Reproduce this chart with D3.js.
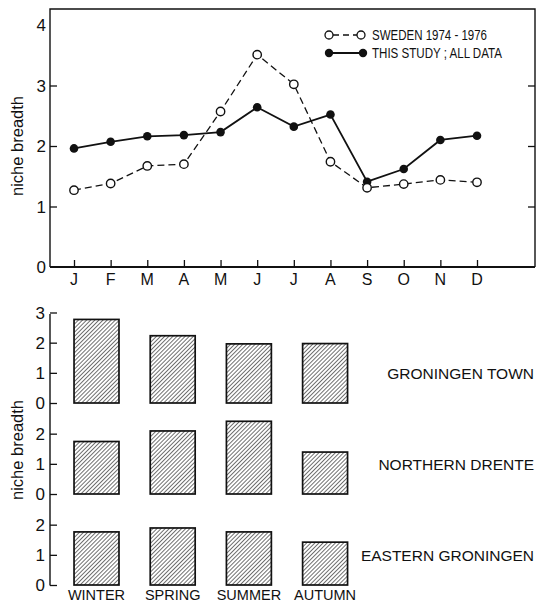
<!DOCTYPE html>
<html><head><meta charset="utf-8">
<script src="https://cdn.jsdelivr.net/npm/d3@7/dist/d3.min.js"></script>
<style>
html,body{margin:0;padding:0;background:#fff;}
svg{display:block;font-family:"Liberation Sans",Arial,Helvetica,sans-serif;}
</style></head>
<body>
<svg id="c" width="539" height="604"></svg>
<script>
// ---- data ----
const months = ["J","F","M","A","M","J","J","A","S","O","N","D"];
const sweden = [1.27,1.38,1.67,1.70,2.57,3.51,3.02,1.74,1.31,1.37,1.44,1.40];
const thisStudy = [1.96,2.07,2.16,2.18,2.23,2.64,2.32,2.52,1.41,1.62,2.10,2.17];
const topTicks = [0,1,2,3,4];
const legendLabels = ["SWEDEN 1974 - 1976","THIS STUDY ; ALL DATA"];

const seasons = ["WINTER","SPRING","SUMMER","AUTUMN"];
const regions = ["GRONINGEN TOWN","NORTHERN DRENTE","EASTERN GRONINGEN"];
const groningenTown = [2.77,2.23,1.96,1.97];
const northernDrente = [1.74,2.09,2.41,1.39];
const easternGroningen = [1.76,1.89,1.76,1.42];
const regionTicks = [[0,1,2,3],[0,1,2],[0,1,2]];
const yTitle = "niche breadth";

// ---- drawing ----
const svg = d3.select("#c");
const ink = "#111";

// defs: hatch pattern
const defs = svg.append("defs");
const pat = defs.append("pattern").attr("id","hatch").attr("patternUnits","userSpaceOnUse")
  .attr("width",2.9).attr("height",2.9).attr("patternTransform","rotate(45)");
pat.append("rect").attr("width",2.9).attr("height",2.9).attr("fill","#fff");
pat.append("line").attr("x1",0).attr("y1",0).attr("x2",0).attr("y2",2.9)
  .attr("stroke",ink).attr("stroke-width",1.2);

// ===== top chart =====
const L = 50, R = 535, T = 9, B = 267;
const x = d3.scaleLinear().domain([0, 11]).range([74, 477]);
const y = d3.scaleLinear().domain([0, 4]).range([B, 25]);

const topG = svg.append("g");
// frame
topG.append("path").attr("d",`M${L},${B}V${T}H${R}V${B}`)
  .attr("fill","none").attr("stroke",ink).attr("stroke-width",1.4);
topG.append("line").attr("x1",L).attr("x2",R).attr("y1",B).attr("y2",B)
  .attr("stroke",ink).attr("stroke-width",2);

// left axis (inward ticks)
const yl = topG.append("g").attr("transform",`translate(${L},0)`)
  .call(d3.axisRight(y).tickValues([1,2,3]).tickSize(7).tickFormat(""));
yl.select(".domain").remove();
yl.selectAll("line").attr("stroke",ink).attr("stroke-width",1.3);
topG.selectAll(".ytl").data(topTicks).join("text").attr("class","ytl")
  .attr("x",L-4).attr("y",d=>y(d)).attr("dy","0.36em").attr("text-anchor","end")
  .attr("font-size",17).attr("fill",ink).text(d=>d);
// right axis (inward ticks)
const yr = topG.append("g").attr("transform",`translate(${R},0)`)
  .call(d3.axisLeft(y).tickValues([1,2,3]).tickSize(7).tickFormat(""));
yr.select(".domain").remove();
yr.selectAll("line").attr("stroke",ink).attr("stroke-width",1.3);

// x axis (inward ticks)
const xa = topG.append("g").attr("transform",`translate(0,${B})`)
  .call(d3.axisTop(x).tickValues(d3.range(months.length)).tickSize(7).tickFormat(""));
xa.select(".domain").remove();
xa.selectAll("line").attr("stroke",ink).attr("stroke-width",1.3);
topG.selectAll(".xtl").data(months).join("text").attr("class","xtl")
  .attr("x",(d,i)=>x(i)).attr("y",B+18).attr("text-anchor","middle")
  .attr("font-size",16).attr("fill",ink).text(d=>d);

// y title
topG.append("text").attr("transform",`translate(23,${(y(1)+y(3))/2}) rotate(-90)`)
  .attr("text-anchor","middle").attr("font-size",16.5).attr("fill",ink).text(yTitle);

const line = d3.line().x((d,i)=>x(i)).y(d=>y(d));
topG.append("path").datum(sweden).attr("d",line).attr("fill","none")
  .attr("stroke",ink).attr("stroke-width",1.3).attr("stroke-dasharray","7,4");
topG.append("path").datum(thisStudy).attr("d",line).attr("fill","none")
  .attr("stroke",ink).attr("stroke-width",1.8);
topG.selectAll(".ps").data(thisStudy).join("circle").attr("class","ps")
  .attr("cx",(d,i)=>x(i)).attr("cy",d=>y(d)).attr("r",4.3).attr("fill",ink);
topG.selectAll(".po").data(sweden).join("circle").attr("class","po")
  .attr("cx",(d,i)=>x(i)).attr("cy",d=>y(d)).attr("r",4.2)
  .attr("fill","#fff").attr("stroke",ink).attr("stroke-width",1.4);

// legend
const lg = topG.append("g");
const lx1 = 329, lx2 = 361, ly = [35, 53];
lg.append("line").attr("x1",lx1).attr("x2",lx2).attr("y1",ly[0]).attr("y2",ly[0])
  .attr("stroke",ink).attr("stroke-width",1.3).attr("stroke-dasharray","6,4").attr("stroke-dashoffset",-4);
[lx1,lx2].forEach(cx=>lg.append("circle").attr("cx",cx).attr("cy",ly[0]).attr("r",4)
  .attr("fill","#fff").attr("stroke",ink).attr("stroke-width",1.3));
lg.append("line").attr("x1",lx1).attr("x2",lx2+2).attr("y1",ly[1]).attr("y2",ly[1])
  .attr("stroke",ink).attr("stroke-width",1.8);
[lx1,lx2+2].forEach(cx=>lg.append("circle").attr("cx",cx).attr("cy",ly[1]).attr("r",4.2).attr("fill",ink));
lg.append("text").attr("x",372).attr("y",ly[0]+5).attr("font-size",14).attr("fill",ink)
  .attr("textLength",115).attr("lengthAdjust","spacingAndGlyphs").text(legendLabels[0]);
lg.append("text").attr("x",372).attr("y",ly[1]+5).attr("font-size",14).attr("fill",ink)
  .attr("textLength",130).attr("lengthAdjust","spacingAndGlyphs").text(legendLabels[1]);

// ===== bottom chart =====
const bx = d3.scaleBand().domain(seasons).range([42.8, 378.8]).padding(0.41);
const baselines = [403, 494, 585];
const regionData = [groningenTown, northernDrente, easternGroningen];
const bot = svg.append("g");
const AX = 50;
bot.append("line").attr("x1",AX).attr("x2",AX).attr("y1",314).attr("y2",585.6)
  .attr("stroke",ink).attr("stroke-width",1.4);

regionData.forEach((vals, gi)=>{
  const base = baselines[gi];
  const ys = d3.scaleLinear().domain([0,3]).range([base, base-90.5]);
  const g = bot.append("g");
  const ax = g.append("g").attr("transform",`translate(${AX},0)`)
    .call(d3.axisRight(ys).tickValues(regionTicks[gi]).tickSize(7).tickFormat(""));
  ax.select(".domain").remove();
  ax.selectAll("line").attr("stroke",ink).attr("stroke-width",1.3);
  g.selectAll(".tl").data(regionTicks[gi]).join("text").attr("class","tl")
    .attr("x",AX-5).attr("y",d=>ys(d)).attr("dy","0.36em").attr("text-anchor","end")
    .attr("font-size",17).attr("fill",ink).text(d=>d);
  g.selectAll(".bar").data(vals).join("rect").attr("class","bar")
    .attr("x",(d,i)=>bx(seasons[i])).attr("width",bx.bandwidth())
    .attr("y",d=>ys(d)).attr("height",d=>ys(0)-ys(d))
    .attr("fill","url(#hatch)").attr("stroke",ink).attr("stroke-width",1.7);
  g.append("text").attr("x",534).attr("y",ys(1.0)+6).attr("text-anchor","end")
    .attr("font-size",15.5).attr("fill",ink).text(regions[gi]);
});

bot.selectAll(".sl").data(seasons).join("text").attr("class","sl")
  .attr("x",d=>bx(d)+bx.bandwidth()/2).attr("y",600).attr("text-anchor","middle")
  .attr("font-size",14.5).attr("fill",ink).text(d=>d);

bot.append("text").attr("transform",`translate(23,450) rotate(-90)`)
  .attr("text-anchor","middle").attr("font-size",16.5).attr("fill",ink).text(yTitle);
</script>
</body></html>
